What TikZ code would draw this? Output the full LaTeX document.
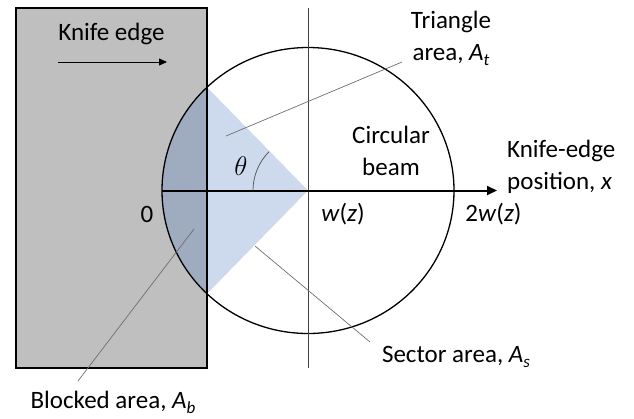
\documentclass[tikz,border=0pt]{standalone}
\usepackage{fix-cm}
\usepackage{fontspec}
\setmainfont{Carlito}
\usetikzlibrary{arrows.meta,calc}
\definecolor{knifegray}{RGB}{191,191,191}
\definecolor{sectorblue}{RGB}{205,218,238}
\definecolor{blockblue}{RGB}{159,171,191}
\definecolor{leadergray}{RGB}{110,110,110}
\newcommand{\areasub}[2]{\textit{#1}\raisebox{-0.2em}{\fontsize{17}{17}\selectfont\textit{#2}}}
\begin{document}
\begin{tikzpicture}[x=1pt,y=1pt,
  lbl/.style={font=\fontsize{25}{32}\selectfont, inner sep=0pt},
  leader/.style={draw=leadergray, line width=0.7pt},
  outline/.style={draw=black, line width=1.3pt},
  guide/.style={draw=black!75, line width=0.8pt}]
\useasboundingbox (0,0) rectangle (634,-418);
% key points
\coordinate (C) at (308,-190.5);
\coordinate (T) at (207,-87.24);
\coordinate (B) at (207,-293.76);
\coordinate (L) at (162,-190.5);
\coordinate (X) at (497,-190.5);
\coordinate (VT) at (308,-8);
\coordinate (VB) at (308,-368);
\coordinate (ka) at (58,-62);
\coordinate (kb) at (167,-62);
% knife
\fill[knifegray] (16,-8) rectangle (207,-368);
% sector
\fill[sectorblue] (C) -- (T) -- (B) -- cycle;
\fill[blockblue] (T) arc[start angle=133.77, end angle=226.23, x radius=146pt, y radius=143pt] -- cycle;
\draw[outline] (16,-8) rectangle (207,-368);
% beam
\draw[outline] (C) ellipse[x radius=146pt, y radius=143pt];
\draw[guide] (VT) -- (VB);
\draw[line width=2pt, -{Triangle[length=10pt,width=9pt]}] (L) -- (X);
% angle
\draw[draw=black!70, line width=0.7pt] ([shift={(135:55)}]C) arc[start angle=135, end angle=180, radius=55pt];
% knife arrow
\draw[line width=0.8pt, -{Triangle[length=8pt,width=7pt]}] (ka) -- (kb);
% labels
\node[lbl, anchor=base] (knife) at (111.5,-40) {Knife edge};
\node[inner sep=0pt, anchor=base, font=\fontsize{27}{27}\selectfont] (theta) at (241,-175) {$\theta$};
\node[lbl, align=center] (tri) at (451,-38) {Triangle\\area, \areasub{A}{t}};
\node[lbl, align=center] (beam) at (391,-150.5) {Circular\\beam};
\node[lbl, align=left, anchor=west] (pos) at (507,-167) {Knife-edge\\position, \textit{x}};
\node[lbl, anchor=base] (w) at (343,-221) {\textit{w}(\textit{z})};
\node[lbl, anchor=base] (w2) at (493.5,-221) {2\textit{w}(\textit{z})};
\node[lbl, anchor=base] (zero) at (147,-222) {0};
\node[lbl, anchor=base] (blocked) at (113,-408.5) {Blocked area, \areasub{A}{b}};
\node[lbl, anchor=base] (sector) at (456,-362) {Sector area, \areasub{A}{s}};
% leaders
\coordinate (tri1) at (226,-136);
\coordinate (tri2) at (402,-62);
\coordinate (blk1) at (194,-229);
\coordinate (blk2) at (78,-381);
\coordinate (sec1) at (255,-246);
\coordinate (sec2) at (370,-342);
\draw[leader] (tri1) -- (tri2);
\draw[leader] (blk1) -- (blk2);
\draw[leader] (sec1) -- (sec2);
\end{tikzpicture}
\end{document}
